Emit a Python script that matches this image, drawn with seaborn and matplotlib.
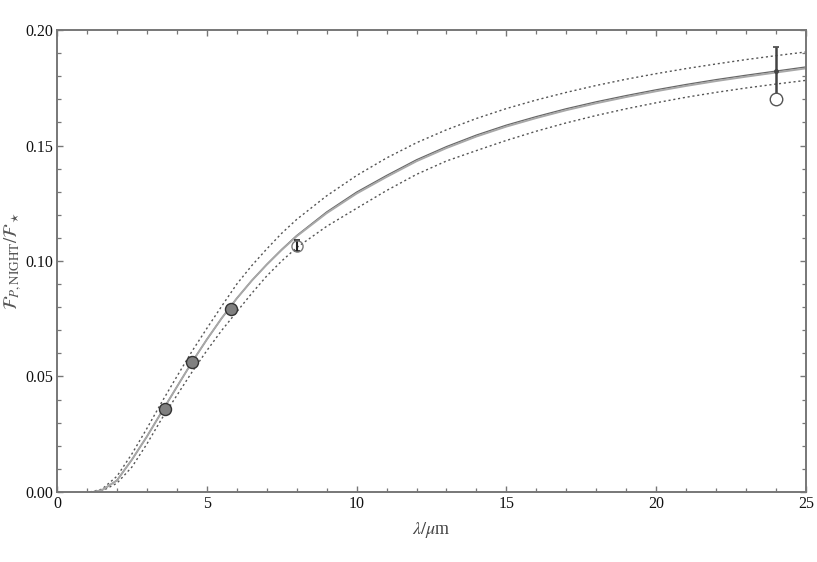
import numpy as np
import pandas as pd
import matplotlib
matplotlib.use("Agg")
import matplotlib.pyplot as plt
import seaborn as sns
from matplotlib.ticker import MultipleLocator

# model curve
model_wl = [1.2, 1.5, 2.0, 2.5, 3.0, 3.5, 4.0, 4.5, 5.0, 5.5, 6.0, 6.5, 7.0, 7.5,
            8.0, 9.0, 10.0, 11.0, 12.0, 13.0, 14.0, 15.0, 16.0, 17.0, 18.0, 19.0,
            20.0, 21.0, 22.0, 23.0, 24.0, 25.0]
model_fp = [0.0, 0.0008, 0.0050, 0.0140, 0.0240, 0.0348, 0.0455, 0.0561, 0.0660, 0.0753,
            0.0838, 0.0915, 0.0985, 0.1050, 0.1110, 0.1212, 0.1298, 0.1370, 0.1438,
            0.1495, 0.1545, 0.1588, 0.1625, 0.1659, 0.1689, 0.1716, 0.1741, 0.1764,
            0.1785, 0.1804, 0.1822, 0.1840]
model2_fp = [0.0, 0.0008, 0.0050, 0.0140, 0.0240, 0.0348, 0.0455, 0.0561, 0.0660, 0.0753,
             0.0838, 0.0915, 0.0984, 0.1048, 0.1107, 0.1207, 0.1292, 0.1364, 0.1432,
             0.1489, 0.1539, 0.1582, 0.1619, 0.1653, 0.1683, 0.1710, 0.1735, 0.1758,
             0.1779, 0.1798, 0.1816, 0.1834]

# upper / lower envelopes
upper_wl = [1.1, 1.5, 2.0, 2.5, 3.0, 3.5, 4.0, 4.5, 5.0, 5.5, 6.0, 6.5, 7.0, 7.5,
            8.0, 9.0, 10.0, 11.0, 12.0, 13.0, 14.0, 15.0, 16.0, 17.0, 18.0, 19.0,
            20.0, 21.0, 22.0, 23.0, 24.0, 25.0]
upper_fp = [0.0, 0.0012, 0.0068, 0.0165, 0.0275, 0.0390, 0.0500, 0.0608, 0.0708, 0.0805,
            0.0900, 0.0980, 0.1052, 0.1120, 0.1180, 0.1282, 0.1370, 0.1446, 0.1512,
            0.1568, 0.1617, 0.1660, 0.1697, 0.1730, 0.1760, 0.1787, 0.1811, 0.1833,
            0.1853, 0.1872, 0.1889, 0.1905]
lower_wl = [1.3, 1.5, 2.0, 2.5, 3.0, 3.5, 4.0, 4.5, 5.0, 5.5, 6.0, 6.5, 7.0, 7.5,
            8.0, 9.0, 10.0, 11.0, 12.0, 13.0, 14.0, 15.0, 16.0, 17.0, 18.0, 19.0,
            20.0, 21.0, 22.0, 23.0, 24.0, 25.0]
lower_fp = [0.0, 0.0004, 0.0038, 0.0108, 0.0208, 0.0318, 0.0418, 0.0518, 0.0612, 0.0700,
            0.0780, 0.0860, 0.0935, 0.1000, 0.1058, 0.1150, 0.1228, 0.1305, 0.1375,
            0.1433, 0.1478, 0.1522, 0.1562, 0.1598, 0.1630, 0.1659, 0.1685, 0.1709,
            0.1730, 0.1749, 0.1766, 0.1782]

# observations
obs_wl = [3.6, 4.5, 5.8]
obs_fp = [0.0359, 0.0562, 0.0792]
irac8_wl, irac8_fp, irac8_err = 8.0, 0.1067, 0.0024
mips_wl, mips_fp, mips_err = 24.0, 0.1822, 0.0105
mips_model = 0.1701

sns.set_theme(style="ticks")
plt.rcParams['font.family'] = ['Liberation Serif', 'DejaVu Serif']
plt.rcParams['mathtext.fontset'] = 'stix'

fig = plt.figure(figsize=(8.17, 5.62), dpi=100)
ax = fig.add_axes([0.0698, 0.1246, 0.9167, 0.822])

sns.lineplot(x=upper_wl, y=upper_fp, ax=ax, color="#555555", lw=1.0,
             linestyle=(0, (1.5, 2.0)), sort=False, estimator=None)
sns.lineplot(x=lower_wl, y=lower_fp, ax=ax, color="#555555", lw=1.0,
             linestyle=(0, (1.5, 2.0)), sort=False, estimator=None)
sns.lineplot(x=model_wl, y=model_fp, ax=ax, color="#666666", lw=1.0,
             sort=False, estimator=None)
sns.lineplot(x=model_wl, y=model2_fp, ax=ax, color="#a8a8a8", lw=1.4,
             sort=False, estimator=None)

sns.scatterplot(x=obs_wl, y=obs_fp, ax=ax, s=75, color="#808080",
                edgecolor="#333333", linewidth=1.0, zorder=5)

ax.errorbar([irac8_wl], [irac8_fp], yerr=[irac8_err], fmt="none", ecolor="#222222",
            elinewidth=1.5, capsize=2.0, capthick=1.2, zorder=6)
ax.plot([irac8_wl], [irac8_fp], "o", ms=8, mfc="none", mec="#777777", mew=1.0, zorder=6)

ax.errorbar([mips_wl], [mips_fp], yerr=[mips_err], fmt="o", ms=2.5, color="#444444",
            elinewidth=1.8, capsize=2.5, capthick=1.2, zorder=6)
ax.plot([mips_wl], [mips_model], "o", ms=9, mfc="white", mec="#555555", mew=1.0, zorder=7)

ax.set_xlim(0, 25)
ax.set_ylim(0, 0.2)
ax.xaxis.set_major_locator(MultipleLocator(5))
ax.xaxis.set_minor_locator(MultipleLocator(1))
ax.yaxis.set_major_locator(MultipleLocator(0.05))
ax.yaxis.set_minor_locator(MultipleLocator(0.01))
ax.yaxis.set_major_formatter(matplotlib.ticker.FormatStrFormatter("%.2f"))
ax.tick_params(which="both", direction="in", top=True, right=True,
               color="#777777", labelsize=11.5, labelcolor="#111111", pad=3)
ax.tick_params(which="major", length=4.5, width=1.0)
ax.tick_params(which="minor", length=3, width=0.9)
for s in ax.spines.values():
    s.set_color("#777777")
    s.set_linewidth(1.4)

ax.set_xlabel(r"$\lambda/\mu$m", fontsize=13, color="#444444", labelpad=6)
ax.set_ylabel(r"$\mathcal{F}_{P,\mathrm{NIGHT}}/\mathcal{F}_\star$", fontsize=13.5,
              color="#555555", ha="center", va="center")
ax.yaxis.set_label_coords(-0.058, 0.5)

fig.savefig("out.png", dpi=100)
